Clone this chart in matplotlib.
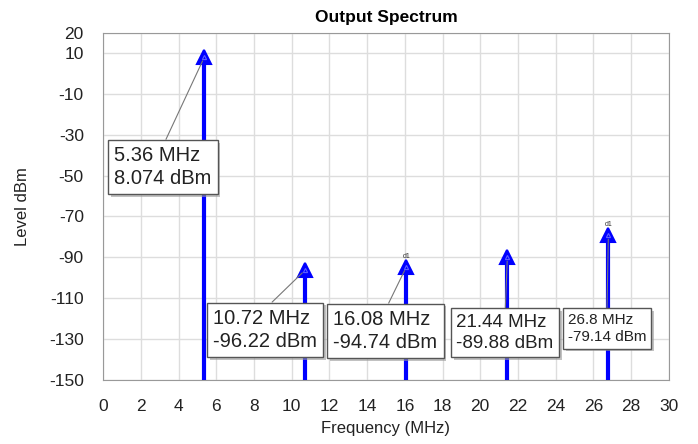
import matplotlib
matplotlib.use("Agg")
import matplotlib.pyplot as plt
import matplotlib.patheffects as pe

plt.rcParams["font.family"] = ["Liberation Sans", "DejaVu Sans"]
plt.rcParams["axes.unicode_minus"] = False

# spectrum lines
freqs = [5.36, 10.72, 16.08, 21.44, 26.8]
levels = [8.074, -96.22, -94.74, -89.88, -79.14]
labels = ["5.36 MHz\n8.074 dBm", "10.72 MHz\n-96.22 dBm", "16.08 MHz\n-94.74 dBm",
          "21.44 MHz\n-89.88 dBm", "26.8 MHz\n-79.14 dBm"]

# where the marker boxes sit (text upper left corner, data coords)
box_x = [0.58, 5.84, 12.21, 18.74, 24.64]
box_y = [-35.4, -115.2, -115.7, -117.7, -117.2]
box_fs = [14.5, 14.5, 14.5, 13.5, 11]

yticks = [20, 10, -10, -30, -50, -70, -90, -110, -130, -150]
xticks = list(range(0, 31, 2))

fig = plt.figure(figsize=(6.98, 4.44), dpi=100)
ax = fig.add_axes([0.148, 0.145, 0.81, 0.781])

ax.vlines(freqs, -150, levels, color="#0000ff", lw=3, zorder=3)
ax.plot(freqs, levels, ls="none", marker="^", ms=9.5, mfc="#0000ff", mec="#0000ff",
        mew=1.5, zorder=4, clip_on=False)
ax.plot(freqs, levels, ls="none", marker="^", ms=3, mfc="none", mec="#6060ff",
        mew=0.8, zorder=5, clip_on=False)

for f, lvl in zip([16.08, 26.8], [-94.74, -79.14]):
    ax.text(f, lvl + 3.5, "d1", fontsize=5, ha="center", va="bottom", color="#333333")

for i in range(len(freqs)):
    an = ax.annotate(labels[i], xy=(freqs[i], levels[i]), xytext=(box_x[i], box_y[i]),
                     fontsize=box_fs[i], ha="left", va="top", color="#222222",
                     linespacing=1.3, zorder=6,
                     bbox=dict(boxstyle="square,pad=0.3", fc="white", ec="#555555", lw=1),
                     arrowprops=dict(arrowstyle="-", color="#777777", lw=0.8,
                                     relpos=(0.5, 1.0), shrinkA=0, shrinkB=3))
    an.get_bbox_patch().set_path_effects([pe.withSimplePatchShadow(offset=(2, -2), shadow_rgbFace="#999999", alpha=0.6)])

ax.set_xlim(0, 30)
ax.set_ylim(-150, 20)
ax.set_xticks(xticks)
ax.set_yticks(yticks)
ax.tick_params(labelsize=12.5, length=0, pad=14, colors="#222222")
ax.grid(True, color="#dddddd", lw=1)
ax.set_axisbelow(True)
for s in ax.spines.values():
    s.set_color("#999999")

ax.set_title("Output Spectrum", fontsize=12.5, fontweight="bold", pad=8)
ax.set_xlabel("Frequency (MHz)", fontsize=12, color="#222222", labelpad=5)
ax.set_ylabel("Level dBm", fontsize=12, color="#222222", labelpad=14)

fig.savefig("out.png", dpi=100)
